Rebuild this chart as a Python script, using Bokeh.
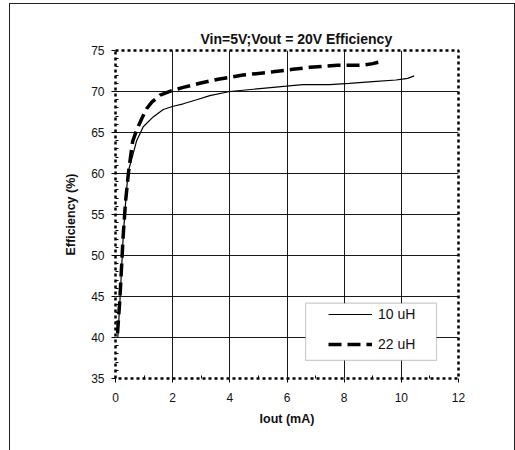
from bokeh.plotting import figure
from bokeh.models import Range1d, FixedTicker, Legend, LegendItem, BoxAnnotation
from bokeh.embed import file_html
from bokeh.resources import INLINE

# ---- data ----
iout_10uH = [0.08, 0.15, 0.21, 0.27, 0.35, 0.44, 0.57, 0.74, 0.97, 1.32, 1.67, 2.02,
             2.37, 2.84, 3.3, 4.0, 5.05, 5.98, 6.55, 7.5, 8.18, 9.0, 9.81, 10.04,
             10.22, 10.45]
eff_10uH = [40.0, 44.1, 48.2, 52.3, 56.3, 60.2, 61.8, 64.0, 65.7, 66.9, 67.8, 68.2,
            68.5, 69.0, 69.5, 70.0, 70.35, 70.65, 70.85, 70.85, 71.0, 71.2, 71.4, 71.5,
            71.6, 71.9]
iout_22uH = [0.07, 0.15, 0.21, 0.27, 0.35, 0.45, 0.51, 0.6, 0.74, 0.92, 1.09, 1.27,
             1.56, 1.97, 2.37, 2.95, 3.59, 4.46, 5.51, 6.2, 6.79, 7.77, 8.18, 8.65,
             9.0, 9.34]
eff_22uH = [40.5, 44.5, 48.5, 52.5, 56.5, 60.0, 61.6, 63.9, 65.3, 66.7, 67.9, 68.7,
            69.55, 70.1, 70.5, 71.0, 71.5, 72.0, 72.4, 72.7, 72.95, 73.2, 73.2, 73.2,
            73.4, 73.7]
x_ticks = [0, 2, 4, 6, 8, 10, 12]
y_ticks = [35, 40, 45, 50, 55, 60, 65, 70, 75]
series_labels = ["10 uH", "22 uH"]
title_text = "Vin=5V;Vout = 20V Efficiency"
x_label = "Iout (mA)"
y_label = "Efficiency (%)"

FONT = "Liberation Sans"

p = figure(width=504, height=446, output_backend="svg", toolbar_location=None,
           x_range=Range1d(0, 12), y_range=Range1d(35, 75),
           min_border_left=105, min_border_right=56, min_border_top=46,
           min_border_bottom=72, title=title_text)
# outer chart-area frame drawn as a CSS outline (does not affect layout)
p.styles = {"margin-left": "10px", "margin-top": "4px",
            "outline": "1px solid #222"}

p.title.text_font = FONT
p.title.text_font_size = "14px"
p.title.text_font_style = "bold"
p.title.align = "left"
p.title.offset = 85
p.title.standoff = 7
p.title.text_color = "#111"

p.background_fill_color = "white"
p.border_fill_color = "white"
p.outline_line_color = "black"
p.outline_line_width = 2.5
p.outline_line_dash = "3 3"

p.xaxis.ticker = FixedTicker(ticks=x_ticks, minor_ticks=[1, 3, 5, 7, 9, 11])
p.yaxis.ticker = FixedTicker(ticks=y_ticks, minor_ticks=list(range(36, 75)))
p.xgrid.ticker = FixedTicker(ticks=[t for t in x_ticks if 0 < t < 12])
p.ygrid.ticker = FixedTicker(ticks=[t for t in y_ticks if 35 < t < 75])
for g in (p.xgrid, p.ygrid):
    g.grid_line_color = "black"
    g.grid_line_width = 1
    g.grid_line_alpha = 0.9

for ax in (p.xaxis, p.yaxis):
    ax.axis_line_color = None
    ax.major_tick_line_color = "black"
    ax.major_tick_out = 4
    ax.major_tick_in = 0
    ax.minor_tick_line_color = "black"
    ax.minor_tick_in = 3
    ax.minor_tick_out = 0
    ax.major_label_text_font = FONT
    ax.major_label_text_font_size = "12px"
    ax.major_label_text_color = "#111"
    ax.axis_label_text_font = FONT
    ax.axis_label_text_font_size = "12.5px"
    ax.axis_label_text_font_style = "bold"
    ax.axis_label_text_color = "#111"

p.xaxis.axis_label = x_label
p.yaxis.axis_label = y_label
p.xaxis.major_label_standoff = 10
p.yaxis.major_label_standoff = 7
p.xaxis.axis_label_standoff = 7
p.yaxis.axis_label_standoff = 10

r1 = p.line(iout_10uH, eff_10uH, line_color="black", line_width=1.2)
r2 = p.line(iout_22uH, eff_22uH, line_color="black", line_width=3.5, line_dash="13 6")

# legend frame
box = BoxAnnotation(left=6.65, right=11.23, bottom=37.2, top=44.19,
                    fill_color="white", fill_alpha=1.0,
                    line_color="#555", line_width=1.2)
p.add_layout(box)

legend = Legend(items=[LegendItem(label=series_labels[0], renderers=[r1]),
                       LegendItem(label=series_labels[1], renderers=[r2])],
                location=(213, 24), padding=0, margin=0, spacing=10,
                glyph_width=44, glyph_height=20, label_height=20,
                label_standoff=6, border_line_color=None,
                background_fill_alpha=0.0,
                label_text_font=FONT, label_text_font_size="14px",
                label_text_color="#111")
p.add_layout(legend, "center")

open("out.html", "w").write(file_html(p, INLINE))
